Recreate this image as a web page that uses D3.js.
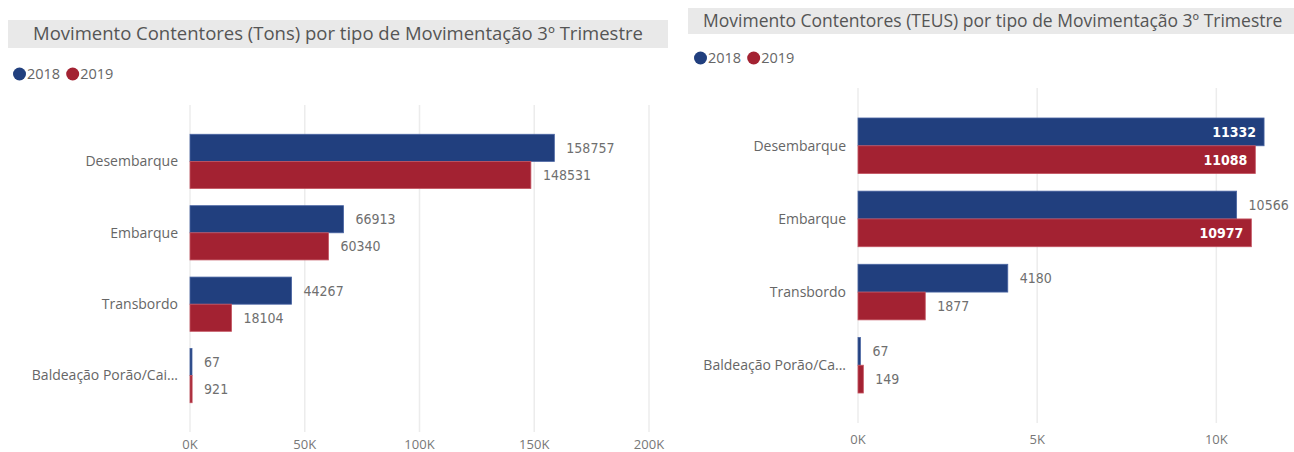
<!DOCTYPE html>
<html>
<head>
<meta charset="utf-8">
<script src="https://cdn.jsdelivr.net/npm/d3@7"></script>
<style>
  html, body { margin: 0; padding: 0; background: #fff; }
  svg { display: block; }
</style>
</head>
<body>
<svg id="chart" width="1294" height="452"></svg>
<script>
const categories = ['Desembarque', 'Embarque', 'Transbordo', 'Baldeação Porão/Cais'];
const years = ['2018', '2019'];
const tons2018 = [158757, 66913, 44267, 67];
const tons2019 = [148531, 60340, 18104, 921];
const teus2018 = [11332, 10566, 4180, 67];
const teus2019 = [11088, 10977, 1877, 149];
const tonsTicks = [0, 50000, 100000, 150000, 200000];
const teusTicks = [0, 5000, 10000];

const colors = { '2018': '#213f7e', '2019': '#a32232' };
const strokes = { '2018': '#4b66a3', '2019': '#c45562' };
const labelFont = '"DejaVu Sans Condensed", "DejaVu Sans", sans-serif';
const uiFont = '"Open Sans", "Noto Sans", sans-serif';

const svg = d3.select('#chart');

// Category labels wider than maxW get cut with an ellipsis
// (the ellipsis itself may spill a little past maxW).
function fitText(sel, maxW) {
  sel.each(function() {
    const t = d3.select(this);
    if (this.getComputedTextLength() <= maxW) return;
    let s = t.text();
    while (s.length > 1) {
      s = s.slice(0, -1);
      t.text(s.trimEnd() + '...');
      if (this.getComputedTextLength() <= maxW + 13) break;
    }
  });
}

function drawChart(o) {
  const g = svg.append('g');

  // title band
  g.append('rect')
      .attr('x', o.title.x).attr('y', o.title.y)
      .attr('width', o.title.w).attr('height', o.title.h)
      .attr('fill', '#e9e9e9');
  g.append('text')
      .attr('x', o.title.tx)
      .attr('y', o.title.y + o.title.h / 2)
      .attr('dy', '0.35em')
      .attr('text-anchor', o.title.anchor)
      .attr('font-family', uiFont)
      .attr('font-size', o.title.size)
      .attr('fill', '#555')
      .text(o.title.text);

  // legend
  let lx = o.legend.x;
  years.forEach(yr => {
    g.append('circle')
        .attr('cx', lx + 6.5).attr('cy', o.legend.y).attr('r', 6.5)
        .attr('fill', colors[yr]);
    const t = g.append('text')
        .attr('x', lx + 14).attr('y', o.legend.y)
        .attr('dy', '0.35em')
        .attr('font-family', uiFont)
        .attr('font-size', 14.5)
        .attr('fill', '#666')
        .text(yr);
    lx += 14 + t.node().getComputedTextLength() + 6;
  });

  const x = d3.scaleLinear().domain(o.domain).range([o.x0, o.x1]);
  const y = d3.scaleBand().domain(categories).range([o.y0, o.y1])
      .paddingInner(0.24).paddingOuter(0.41);
  const ySub = d3.scaleBand().domain(years).range([0, y.bandwidth()]);

  // gridlines
  g.append('g').selectAll('line')
    .data(o.ticks)
    .join('line')
      .attr('x1', d => x(d)).attr('x2', d => x(d))
      .attr('y1', o.y0).attr('y2', o.y1)
      .attr('stroke', '#ececec')
      .attr('stroke-width', 1.5);

  // x tick labels
  g.append('g').selectAll('text')
    .data(o.ticks)
    .join('text')
      .attr('x', d => x(d))
      .attr('y', o.tickY)
      .attr('dy', '0.35em')
      .attr('text-anchor', 'middle')
      .attr('font-family', uiFont)
      .attr('font-size', 13)
      .attr('fill', '#777')
      .text(d => (d / 1000) + 'K');

  // category labels
  g.append('g').selectAll('text')
    .data(categories)
    .join('text')
      .attr('x', o.x0 - 12)
      .attr('y', d => y(d) + y.bandwidth() / 2)
      .attr('dy', '0.35em')
      .attr('text-anchor', 'end')
      .attr('font-family', uiFont)
      .attr('font-size', 14)
      .attr('fill', '#666')
      .text(d => d)
      .call(fitText, o.catW);

  const rows = [];
  categories.forEach((c, i) => {
    rows.push({ cat: c, yr: '2018', v: o.s2018[i] });
    rows.push({ cat: c, yr: '2019', v: o.s2019[i] });
  });

  const bar = g.append('g').selectAll('g')
    .data(rows)
    .join('g')
      .attr('transform', d => `translate(0,${y(d.cat) + ySub(d.yr)})`);

  bar.append('rect')
      .attr('x', x(0))
      .attr('width', d => Math.max(2, x(d.v) - x(0)))
      .attr('height', ySub.bandwidth())
      .attr('fill', d => colors[d.yr])
      .attr('stroke', d => strokes[d.yr])
      .attr('stroke-width', 0.8);

  // value labels: outside the bar, or inside in white when there is no room
  bar.append('text')
      .attr('y', ySub.bandwidth() / 2)
      .attr('dy', '0.36em')
      .attr('font-family', labelFont)
      .attr('font-size', 14)
      .text(d => d.v)
      .each(function(d) {
        const t = d3.select(this);
        const w = this.getComputedTextLength();
        const end = Math.max(x(0) + 2, x(d.v));
        if (end + 12 + w <= o.labelLimit) {
          t.attr('x', end + 12).attr('fill', '#6f6f6f');
        } else {
          t.attr('x', end - 8).attr('text-anchor', 'end')
            .attr('fill', '#fff').attr('font-weight', 'bold');
        }
      });
}

drawChart({
  title: { x: 8, y: 20, w: 660, h: 28, tx: 338, anchor: 'middle', size: 18.5,
           text: 'Movimento Contentores (Tons) por tipo de Movimentação 3º Trimestre' },
  legend: { x: 13, y: 74 },
  domain: [0, 200000], ticks: tonsTicks,
  x0: 190, x1: 649, y0: 105, y1: 432, tickY: 444,
  catW: 140, labelLimit: 668,
  s2018: tons2018, s2019: tons2019
});

drawChart({
  title: { x: 688, y: 8, w: 620, h: 26, tx: 703, anchor: 'start', size: 17.5,
           text: 'Movimento Contentores (TEUS) por tipo de Movimentação 3º Trimestre' },
  legend: { x: 694, y: 58 },
  domain: [0, 12000], ticks: teusTicks,
  x0: 858, x1: 1288, y0: 88, y1: 423, tickY: 439,
  catW: 130, labelLimit: 1294,
  s2018: teus2018, s2019: teus2019
});
</script>
</body>
</html>
